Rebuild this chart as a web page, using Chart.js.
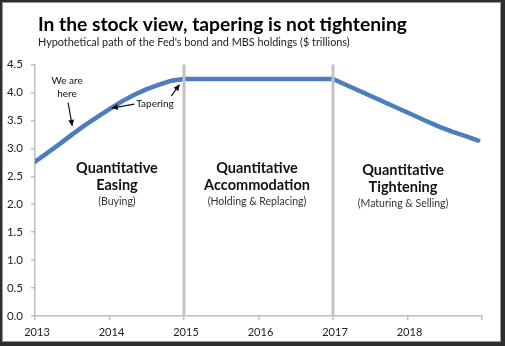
<!DOCTYPE html>
<html>
<head>
<meta charset="utf-8">
<script src="https://cdn.jsdelivr.net/npm/chart.js@4/dist/chart.umd.min.js"></script>
<style>
  html, body { margin: 0; padding: 0; background: #2e2e2e; width: 505px; height: 346px; overflow: hidden; }
  #frame { position: absolute; left: 2px; top: 2px; width: 497px; height: 338px; background: #fff; border: 1px solid #9a9a9a; }
  #wrap { position: absolute; left: 0; top: 0; width: 505px; height: 346px; }
</style>
</head>
<body>
<div id="frame"></div>
<div id="wrap"><canvas id="c" width="505" height="346"></canvas></div>
<script>
// Hypothetical path of Fed bond + MBS holdings, $ trillions
const years = [2013.0, 2013.167, 2013.333, 2013.5, 2013.667, 2013.833, 2014.0,
               2014.167, 2014.333, 2014.5, 2014.667, 2014.833, 2015.0,
               2016.0, 2017.0,
               2017.5, 2018.0, 2018.25, 2018.44, 2018.6, 2018.8, 2018.95];
const holdings = [2.76, 2.92, 3.08, 3.25, 3.41, 3.56, 3.70,
                  3.84, 3.96, 4.06, 4.14, 4.21, 4.24,
                  4.24, 4.24,
                  3.94, 3.64, 3.49, 3.38, 3.30, 3.21, 3.14];
const yTicks = [0, 0.5, 1, 1.5, 2, 2.5, 3, 3.5, 4, 4.5];
const xTickYears = [2013, 2014, 2015, 2016, 2017, 2018];
const regimeBreaks = [2015, 2017];
const regimes = [
  { x: 2014.1, title: ['Quantitative', 'Easing'], sub: '(Buying)' },
  { x: 2015.98, title: ['Quantitative', 'Accommodation'], sub: '(Holding & Replacing)' },
  { x: 2017.94, title: ['Quantitative', 'Tightening'], sub: '(Maturing & Selling)' }
];
const titleText = 'In the stock view, tapering is not tightening';
const subtitleText = "Hypothetical path of the Fed's bond and MBS holdings ($ trillions)";

const FONT = 'Lato, "Open Sans", sans-serif';

const decorations = {
  id: 'decorations',
  beforeDatasetsDraw(chart) {
    const { ctx, scales: { x, y } } = chart;
    ctx.save();
    // regime labels
    ctx.textAlign = 'center';
    ctx.textBaseline = 'middle';
    regimes.forEach((r, i) => {
      const cx = x.getPixelForValue(r.x);
      const dy = i === 2 ? 2 : 0;
      ctx.fillStyle = '#111';
      ctx.font = 'bold 14.5px ' + FONT;
      ctx.fillText(r.title[0], cx, y.getPixelForValue(2.65) + dy);
      ctx.fillText(r.title[1], cx, y.getPixelForValue(2.33) + dy);
      ctx.font = '10.5px ' + FONT;
      ctx.fillStyle = '#333';
      ctx.fillText(r.sub, cx, y.getPixelForValue(2.04) + dy);
    });
    ctx.restore();
  },
  afterDatasetsDraw(chart) {
    const { ctx, chartArea, scales: { x, y } } = chart;
    ctx.save();
    // regime boundaries
    ctx.strokeStyle = '#c2c2c2';
    ctx.lineWidth = 3;
    regimeBreaks.forEach(v => {
      const px = x.getPixelForValue(v);
      ctx.beginPath();
      ctx.moveTo(px, chartArea.top);
      ctx.lineTo(px, chartArea.bottom);
      ctx.stroke();
    });

    // callout arrows
    const arrow = (x0, y0, x1, y1) => {
      ctx.strokeStyle = '#111';
      ctx.fillStyle = '#111';
      ctx.lineWidth = 1.2;
      ctx.beginPath();
      ctx.moveTo(x0, y0);
      ctx.lineTo(x1, y1);
      ctx.stroke();
      const a = Math.atan2(y1 - y0, x1 - x0);
      const L = 6, W = 3;
      ctx.beginPath();
      ctx.moveTo(x1, y1);
      ctx.lineTo(x1 - L * Math.cos(a) + W * Math.sin(a), y1 - L * Math.sin(a) - W * Math.cos(a));
      ctx.lineTo(x1 - L * Math.cos(a) - W * Math.sin(a), y1 - L * Math.sin(a) + W * Math.cos(a));
      ctx.closePath();
      ctx.fill();
    };
    ctx.font = '10px ' + FONT;
    ctx.fillStyle = '#111';
    ctx.textAlign = 'center';
    ctx.textBaseline = 'middle';
    const hx = x.getPixelForValue(2013.43), hy = y.getPixelForValue(4.2);
    ctx.fillText('We are', hx, hy);
    ctx.fillText('here', hx, hy + 13);
    arrow(hx + 1, y.getPixelForValue(3.82), x.getPixelForValue(2013.5), y.getPixelForValue(3.4));

    ctx.textAlign = 'left';
    const tx = x.getPixelForValue(2014.36), ty = y.getPixelForValue(3.79);
    ctx.fillText('Tapering', tx, ty);
    arrow(tx - 2, ty, x.getPixelForValue(2014.03), y.getPixelForValue(3.72));
    arrow(x.getPixelForValue(2014.83), y.getPixelForValue(3.94), x.getPixelForValue(2014.94), y.getPixelForValue(4.14));
    ctx.restore();
  },
  afterDraw(chart) {
    const { ctx } = chart;
    ctx.save();
    ctx.fillStyle = '#000';
    ctx.textAlign = 'left';
    ctx.textBaseline = 'alphabetic';
    ctx.font = 'bold 18px ' + FONT;
    const tw = ctx.measureText(titleText).width;
    ctx.font = 'bold ' + (18 * 369 / tw).toFixed(2) + 'px ' + FONT;
    ctx.fillText(titleText, 38, 31);
    ctx.fillStyle = '#222';
    ctx.font = '11px ' + FONT;
    const sw = ctx.measureText(subtitleText).width;
    ctx.font = (11 * 312 / sw).toFixed(2) + 'px ' + FONT;
    ctx.fillText(subtitleText, 38, 46);
    ctx.restore();
  }
};

new Chart(document.getElementById('c'), {
  type: 'line',
  data: {
    datasets: [{
      data: years.map((yr, i) => ({ x: yr, y: holdings[i] })),
      borderColor: '#4a7ebf',
      borderWidth: 4.5,
      pointRadius: 0,
      tension: 0,
      borderCapStyle: 'round',
      borderJoinStyle: 'round',
      fill: false
    }]
  },
  options: {
    responsive: false,
    animation: false,
    layout: { padding: { left: 0, right: 23, top: 64.5, bottom: 0 } },
    plugins: { legend: { display: false }, tooltip: { enabled: false } },
    scales: {
      x: {
        type: 'linear',
        min: 2013,
        max: 2019,
        afterBuildTicks(s) { s.ticks = xTickYears.concat([2019]).map(v => ({ value: v })); },
        afterFit(s) { s.height = 30; },
        border: { color: '#bdbdbd', width: 1.5 },
        grid: { drawOnChartArea: false, color: '#bdbdbd', tickLength: 4, lineWidth: 1.5 },
        ticks: {
          color: '#222',
          font: { family: FONT, size: 11 },
          padding: 6,
          labelOffset: 2,
          maxRotation: 0,
          callback: v => (xTickYears.includes(v) ? String(v) : '')
        }
      },
      y: {
        min: 0,
        max: 4.5,
        afterBuildTicks(s) { s.ticks = yTicks.map(v => ({ value: v })); },
        afterFit(s) { s.width = 35; },
        border: { color: '#bdbdbd', width: 1.5 },
        grid: { drawOnChartArea: false, color: '#bdbdbd', tickLength: 4, lineWidth: 1.5 },
        ticks: {
          color: '#222',
          font: { family: FONT, size: 11.5 },
          padding: 8,
          callback: v => v.toFixed(1)
        }
      }
    }
  },
  plugins: [decorations]
});
</script>
</body>
</html>
